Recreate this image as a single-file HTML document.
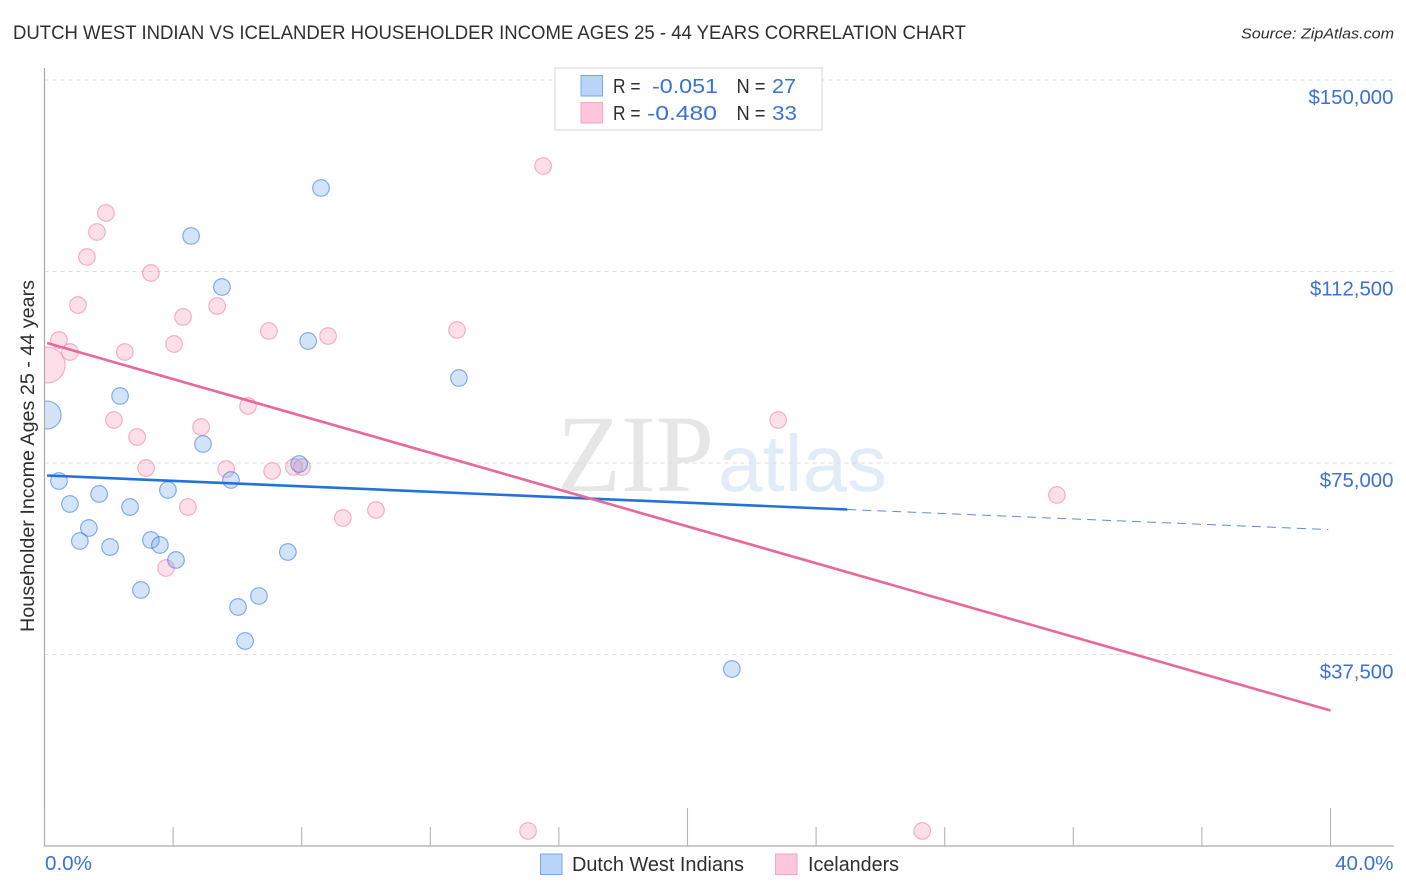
<!DOCTYPE html>
<html lang="en">
<head>
<meta charset="utf-8">
<title>Dutch West Indian vs Icelander Householder Income Correlation Chart</title>
<style>
  html, body { margin: 0; padding: 0; background: #fff; }
  body { width: 1406px; height: 892px; overflow: hidden; }
  svg { display: block; font-family: "Liberation Sans", sans-serif; }
</style>
</head>
<body>
<svg id="chart" xmlns="http://www.w3.org/2000/svg" width="1406" height="892" viewBox="0 0 1406 892">
  <defs>
    <clipPath id="plot-clip"><rect x="44.5" y="60" width="1350" height="786"></rect></clipPath>
  </defs>
  <text x="13" y="39" font-size="19" fill="#2f2f33" textLength="953" lengthAdjust="spacingAndGlyphs">DUTCH WEST INDIAN VS ICELANDER HOUSEHOLDER INCOME AGES 25 - 44 YEARS CORRELATION CHART</text>
  <text x="1241" y="38.5" font-size="15" font-style="italic" fill="#2f2f33" textLength="153" lengthAdjust="spacingAndGlyphs">Source: ZipAtlas.com</text>

  <g>
    <text x="557" y="491" font-family="'Liberation Serif', serif" font-size="110" fill="#e6e6e6" textLength="157" lengthAdjust="spacingAndGlyphs">ZIP</text>
    <text x="718" y="491" font-size="80" fill="#e2ecf9" textLength="169" lengthAdjust="spacingAndGlyphs">atlas</text>
  </g>

  <g id="grid"></g>
  <g id="pink-points" clip-path="url(#plot-clip)"></g>
  <g id="blue-points" clip-path="url(#plot-clip)"></g>
  <g id="trends"></g>
  <g id="axes"></g>

  <text transform="translate(34,632) rotate(-90)" font-size="19.5" fill="#2f2f33" textLength="352" lengthAdjust="spacingAndGlyphs">Householder Income Ages 25 - 44 years</text>

  <g>
    <rect x="555" y="68" width="267" height="62" fill="#fff" stroke="#dedede" stroke-width="1.3"></rect>
    <rect x="581" y="75.5" width="21.5" height="20.5" fill="#b9d4f8" stroke="#78a9e6" stroke-width="1"></rect>
    <text x="613" y="93" font-size="20" fill="#2f2f33" textLength="27.5" lengthAdjust="spacingAndGlyphs">R =</text>
    <text x="652" y="93" font-size="20.5" fill="#3a72d4" textLength="66" lengthAdjust="spacingAndGlyphs">-0.051</text>
    <text x="736.5" y="93" font-size="20" fill="#2f2f33" textLength="29" lengthAdjust="spacingAndGlyphs">N =</text>
    <text x="772" y="93" font-size="20.5" fill="#3a72d4" textLength="24" lengthAdjust="spacingAndGlyphs">27</text>
    <rect x="581" y="102.5" width="21.5" height="20.5" fill="#fdc6da" stroke="#f4a6c2" stroke-width="1"></rect>
    <text x="613" y="120" font-size="20" fill="#2f2f33" textLength="27.5" lengthAdjust="spacingAndGlyphs">R =</text>
    <text x="647" y="120" font-size="20.5" fill="#3a72d4" textLength="70" lengthAdjust="spacingAndGlyphs">-0.480</text>
    <text x="736.5" y="120" font-size="20" fill="#2f2f33" textLength="29" lengthAdjust="spacingAndGlyphs">N =</text>
    <text x="772" y="120" font-size="20.5" fill="#3a72d4" textLength="25" lengthAdjust="spacingAndGlyphs">33</text>
  </g>

  <g>
    <rect x="540.5" y="854" width="21.5" height="20.5" fill="#b9d4f8" stroke="#78a9e6" stroke-width="1"></rect>
    <text x="572" y="871" font-size="20" fill="#2f2f33" textLength="172" lengthAdjust="spacingAndGlyphs">Dutch West Indians</text>
    <rect x="775.5" y="854" width="21.5" height="20.5" fill="#fdc6da" stroke="#f4a6c2" stroke-width="1"></rect>
    <text x="808" y="871" font-size="20" fill="#2f2f33" textLength="91" lengthAdjust="spacingAndGlyphs">Icelanders</text>
  </g>
</svg>
<script>
const blueXValues = [8.60,4.56,5.52,8.20,12.89,2.35,0.08,4.93,7.92,5.80,0.45,3.84,1.70,0.79,2.66,1.38,1.10,2.04,3.31,3.59,4.09,7.57,3.00,6.67,6.02,6.24,21.38];
const blueYValues = [128851,119452,109465,98890,91645,88120,84399,78720,74804,71671,71475,69713,68930,66971,66384,62271,59726,58551,59922,58942,56005,57572,50130,48955,46801,40144,34661];
const blueWeights = [1,1,1,1,1,1,2.85,1,1,1,1,1,1,1,1,1,1,1,1,1,1,1,1,1,1,1,1];
const pinkXValues = [15.51,1.91,1.63,1.32,3.31,1.04,5.37,4.31,6.98,8.82,12.83,0.45,4.03,0.79,2.50,0.08,6.33,2.16,22.82,2.88,4.87,3.16,5.65,7.08,7.76,8.01,31.49,4.46,10.31,9.28,3.78,15.04,27.30];
const pinkYValues = [133159,123955,120235,115339,112206,105940,105744,103590,100848,99869,101044,99086,98303,96736,96736,94190,86162,83420,83420,80091,82049,74021,73825,73433,74217,74217,68734,66384,65796,64230,54439,2937,2937];
const pinkWeights = [1,1,1,1,1,1,1,1,1,1,1,1,1,1,1,4.7,1,1,1,1,1,1,1,1,1,1,1,1,1,1,1,1,1];
const blueTrendX = [0.08,24.97];
const blueTrendY = [72551,65894];
const blueForecastX = [24.97,39.93];
const blueForecastY = [65894,61978];
const pinkTrendX = [0.08,40];
const pinkTrendY = [98499,26534];
const yTickValues = [150000,112500,75000,37500];
const yTickLabels = ["$150,000","$112,500","$75,000","$37,500"];
const xTickValues = [0,4,8,12,16,20,24,28,32,36,40];
const xMajorTicks = [0,20,40];
const xEndValues = [0,40];
const xEndLabels = ["0.0%","40.0%"];

const NS = "http://www.w3.org/2000/svg";
function xPos(v) { return 44.5 + (v / 40) * 1286; }
function yPos(v) { return 846 - (v / 150000) * 766; }
function rPos(w) { return 8.3 * Math.sqrt(w); }
function make(tag, attrs, parent) {
  const el = document.createElementNS(NS, tag);
  for (const k in attrs) el.setAttribute(k, attrs[k]);
  parent.appendChild(el);
  return el;
}

const gridLayer = document.getElementById("grid");
const axesLayer = document.getElementById("axes");
const pinkLayer = document.getElementById("pink-points");
const blueLayer = document.getElementById("blue-points");
const trendLayer = document.getElementById("trends");

yTickValues.forEach(function (v, i) {
  const line = make("line", {x1: 44.5, x2: 1393, y1: yPos(v), y2: yPos(v), stroke: "#dcdcdc", "stroke-width": 1, "stroke-dasharray": "4 4"}, gridLayer);
  
  
  const label = make("text", {x: 1393.5, y: yPos(v) + 24, "font-size": 20.4, fill: "#3a72d4", "text-anchor": "end"}, axesLayer);
  
  
  label.textContent = yTickLabels[i];
});

pinkXValues.forEach(function (v, i) {
  const c = make("circle", {cx: xPos(v), cy: yPos(pinkYValues[i]), r: rPos(pinkWeights[i]), fill: "rgba(247,150,185,0.3)", stroke: "rgba(236,120,165,0.6)", "stroke-width": 1.1}, pinkLayer);
  
  
});

blueXValues.forEach(function (v, i) {
  const c = make("circle", {cx: xPos(v), cy: yPos(blueYValues[i]), r: rPos(blueWeights[i]), fill: "rgba(110,165,235,0.3)", stroke: "rgba(45,115,220,0.6)", "stroke-width": 1.1}, blueLayer);
  
  
});

const blueTrend = make("line", {x1: xPos(blueTrendX[0]), x2: xPos(blueTrendX[1]), y1: yPos(blueTrendY[0]), y2: yPos(blueTrendY[1]), stroke: "#2272d9", "stroke-width": 2.6}, trendLayer);


const blueForecast = make("line", {x1: xPos(blueForecastX[0]), x2: xPos(blueForecastX[1]), y1: yPos(blueForecastY[0]), y2: yPos(blueForecastY[1]), stroke: "#5a8fd8", "stroke-width": 1, "stroke-dasharray": "9 6"}, trendLayer);


const pinkTrend = make("line", {x1: xPos(pinkTrendX[0]), x2: xPos(pinkTrendX[1]), y1: yPos(pinkTrendY[0]), y2: yPos(pinkTrendY[1]), stroke: "#e8689b", "stroke-width": 2.6}, trendLayer);



const yAxis = make("line", {x1: 44.5, x2: 44.5, y1: 68, y2: 846.5, stroke: "#aaaaaa", "stroke-width": 1.2}, axesLayer);


const xAxis = make("line", {x1: 44, x2: 1394, y1: 846, y2: 846, stroke: "#aaaaaa", "stroke-width": 1.2}, axesLayer);



xTickValues.forEach(function (v) {
  const top = xMajorTicks.indexOf(v) >= 0 ? 808 : 827;
  const tick = make("line", {x1: xPos(v), x2: xPos(v), y1: top, y2: 846, stroke: "#b4b4b4", "stroke-width": 1.1}, axesLayer);
  
  
});

xEndValues.forEach(function (v, i) {
  const label = make("text", {x: i === 0 ? xPos(v) + 0.5 : xPos(v) + 63, y: 870, "font-size": 20.6, fill: "#3a72d4", "text-anchor": i === 0 ? "start" : "end"}, axesLayer);
  
  
  label.textContent = xEndLabels[i];
});
</script>
</body>
</html>
